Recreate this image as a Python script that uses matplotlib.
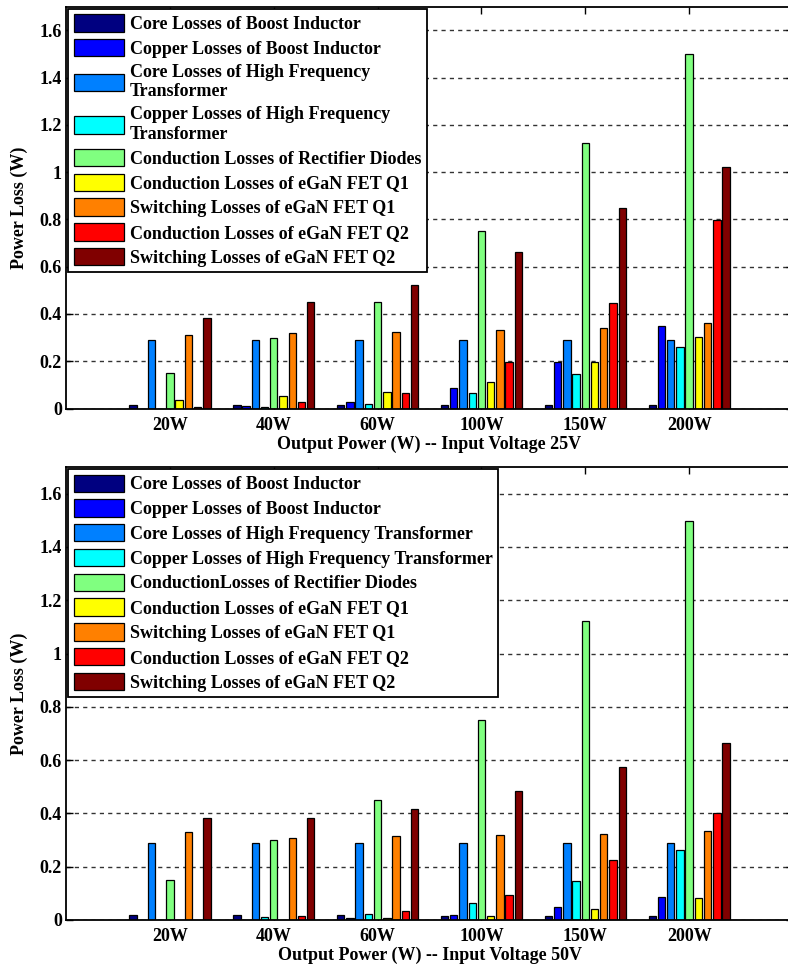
import matplotlib.pyplot as plt
import numpy as np

plt.rcParams['font.family'] = ['Liberation Serif', 'DejaVu Serif']
plt.rcParams['font.weight'] = 'bold'
plt.rcParams['axes.labelweight'] = 'bold'
plt.rcParams['font.size'] = 13

groups = ['20W', '40W', '60W', '100W', '150W', '200W']
ticks_y = [0, 0.2, 0.4, 0.6, 0.8, 1.0, 1.2, 1.4, 1.6]
tick_labels_y = ['0', '0.2', '0.4', '0.6', '0.8', '1', '1.2', '1.4', '1.6']

names_25v = ['Core Losses of Boost Inductor',
             'Copper Losses of Boost Inductor',
             'Core Losses of High Frequency\nTransformer',
             'Copper Losses of High Frequency\nTransformer',
             'Conduction Losses of Rectifier Diodes',
             'Conduction Losses of eGaN FET Q1',
             'Switching Losses of eGaN FET Q1',
             'Conduction Losses of eGaN FET Q2',
             'Switching Losses of eGaN FET Q2']
names_50v = ['Core Losses of Boost Inductor',
             'Copper Losses of Boost Inductor',
             'Core Losses of High Frequency Transformer',
             'Copper Losses of High Frequency Transformer',
             'ConductionLosses of Rectifier Diodes',
             'Conduction Losses of eGaN FET Q1',
             'Switching Losses of eGaN FET Q1',
             'Conduction Losses of eGaN FET Q2',
             'Switching Losses of eGaN FET Q2']
colors = ['#000080', '#0000FF', '#0080FF', '#00FFFF', '#80FF80',
          '#FFFF00', '#FF8000', '#FF0000', '#800000']

# input voltage 25V  (20W .. 200W)
core_boost_25 = [0.015, 0.017, 0.016, 0.017, 0.017, 0.017]
copper_boost_25 = [0.0, 0.010, 0.027, 0.086, 0.196, 0.349]
core_hf_25 = [0.29, 0.29, 0.29, 0.29, 0.29, 0.29]
copper_hf_25 = [0.0, 0.006, 0.021, 0.065, 0.145, 0.262]
diodes_25 = [0.149, 0.30, 0.452, 0.751, 1.124, 1.50]
cond_q1_25 = [0.038, 0.054, 0.069, 0.113, 0.198, 0.304]
sw_q1_25 = [0.312, 0.32, 0.323, 0.332, 0.342, 0.36]
cond_q2_25 = [0.006, 0.027, 0.064, 0.195, 0.445, 0.797]
sw_q2_25 = [0.383, 0.452, 0.523, 0.663, 0.847, 1.02]

# input voltage 50V
core_boost_50 = [0.017, 0.017, 0.017, 0.016, 0.016, 0.016]
copper_boost_50 = [0.0, 0.0, 0.008, 0.020, 0.049, 0.088]
core_hf_50 = [0.29, 0.29, 0.29, 0.29, 0.29, 0.29]
copper_hf_50 = [0.0, 0.011, 0.022, 0.062, 0.148, 0.262]
diodes_50 = [0.15, 0.30, 0.451, 0.75, 1.124, 1.497]
cond_q1_50 = [0.0, 0.0, 0.006, 0.016, 0.042, 0.081]
sw_q1_50 = [0.33, 0.309, 0.314, 0.319, 0.324, 0.334]
cond_q2_50 = [0.0, 0.016, 0.034, 0.095, 0.224, 0.40]
sw_q2_50 = [0.381, 0.381, 0.415, 0.484, 0.574, 0.664]

series_25 = [core_boost_25, copper_boost_25, core_hf_25, copper_hf_25, diodes_25,
             cond_q1_25, sw_q1_25, cond_q2_25, sw_q2_25]
series_50 = [core_boost_50, copper_boost_50, core_hf_50, copper_hf_50, diodes_50,
             cond_q1_50, sw_q1_50, cond_q2_50, sw_q2_50]


def draw_panel(ax, series, names, xlabel):
    x = np.arange(1, len(groups) + 1)
    slot = 0.8 / len(series)
    for i, vals in enumerate(series):
        ax.bar(x + (i - 4) * slot, vals, width=slot * 0.8, color=colors[i],
               edgecolor='black', linewidth=0.9, label=names[i])
    ax.set_xlim(0, 7)
    ax.set_ylim(0, 1.7)
    ax.set_xticks(x)
    ax.set_xticklabels(groups)
    ax.set_yticks(ticks_y)
    ax.set_yticklabels(tick_labels_y)
    ax.yaxis.grid(True, linestyle=(0, (3, 3)), color='#333333', linewidth=1.0)
    ax.set_axisbelow(True)
    ax.tick_params(direction='in', top=True, right=True, length=5, width=1)
    ax.tick_params(axis='x', pad=6)
    ax.tick_params(axis='y', pad=3)
    for s in ax.spines.values():
        s.set_linewidth(1.3)
    ax.set_xlabel(xlabel, labelpad=1)
    ax.set_ylabel('Power Loss (W)', labelpad=8)
    leg = ax.legend(loc='upper left', bbox_to_anchor=(0.0, 1.0), borderaxespad=0.12,
                    fancybox=False, framealpha=1, edgecolor='black',
                    handlelength=2.8, handleheight=1.1, handletextpad=0.3,
                    labelspacing=0.33, borderpad=0.3)
    leg.get_frame().set_linewidth(1.3)


fig = plt.figure(figsize=(7.88, 9.72), dpi=100)
ax1 = fig.add_axes([0.0838, 0.5797, 0.9226, 0.4134])
ax2 = fig.add_axes([0.0838, 0.0535, 0.9226, 0.466])

draw_panel(ax1, series_25, names_25v, 'Output Power (W) -- Input Voltage 25V')
draw_panel(ax2, series_50, names_50v, 'Output Power (W) -- Input Voltage 50V')

fig.savefig('out.png', dpi=100)
